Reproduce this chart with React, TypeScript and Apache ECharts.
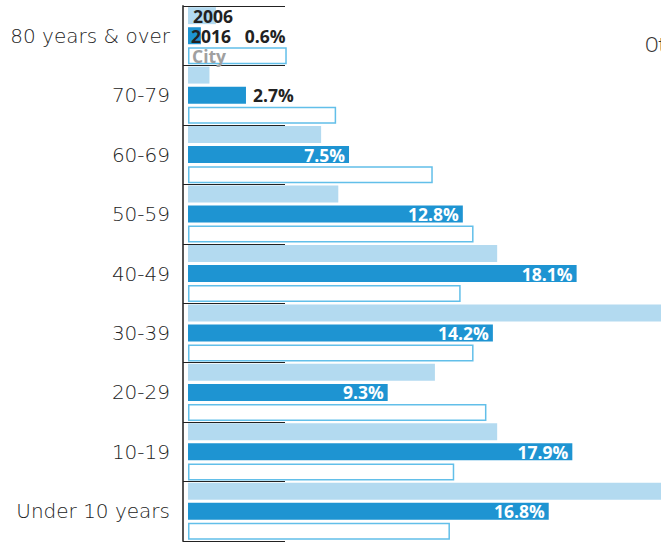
import React, { useEffect, useRef } from "react";
import * as echarts from "echarts";

const categories = ["80 years & over", "70-79", "60-69", "50-59", "40-49", "30-39", "20-29", "10-19", "Under 10 years"];
const v2006 = [1.3, 1.0, 6.2, 7.0, 14.4, 23.0, 11.5, 14.4, 23.0];
const v2016 = [0.6, 2.7, 7.5, 12.8, 18.1, 14.2, 9.3, 17.9, 16.8];
const vCity = [4.6, 6.9, 11.4, 13.3, 12.7, 13.3, 13.9, 12.4, 12.2];
const seriesNames = ["2006", "2016", "City"];

const LIGHT = "#b3daf0";
const DARK = "#1e94d2";
const BORDER = "#62bfe9";
const FONT = "'Open Sans', sans-serif";
const CAT_FONT = "'DejaVu Sans', sans-serif";

export default function App() {
  const ref = useRef<HTMLDivElement>(null);
  useEffect(() => {
    const chart = echarts.init(ref.current!, null, { renderer: "svg" });
    const labelBase = { fontFamily: FONT, fontWeight: "bold" as const, fontSize: 17.5, lineHeight: 16 };
    chart.setOption({
      animation: false,
      grid: { left: 183, right: 0, top: 6, bottom: 2 },
      xAxis: { type: "value", min: -0.233, max: 22.03, show: false },
      yAxis: {
        type: "category",
        inverse: true,
        data: categories,
        axisLine: { show: true, onZero: false, lineStyle: { color: "#555", width: 2 } },
        axisTick: { show: true, inside: true, length: 102, lineStyle: { color: "#222", width: 1 } },
        axisLabel: { fontFamily: CAT_FONT, fontWeight: 200, fontSize: 20, color: "#222", margin: 13 },
        splitLine: { show: false },
      },
      graphic: [
        { type: "text", left: 645, top: 35, style: { text: "Other", fontFamily: "Roboto, sans-serif", fontWeight: 300, fontSize: 20, fill: "#333" } },
      ],
      series: [
        {
          name: seriesNames[0],
          type: "bar",
          barWidth: 17,
          barGap: "18%",
          itemStyle: { color: LIGHT },
          label: { show: false },
          data: v2006.map((v, i) =>
            i === 0
              ? { value: v, label: { show: true, position: "insideLeft", distance: 5, color: "#222", formatter: seriesNames[0], ...labelBase } }
              : v
          ),
        },
        {
          name: seriesNames[1],
          type: "bar",
          barWidth: 17,
          barGap: "18%",
          itemStyle: { color: DARK },
          label: { show: true, position: "insideRight", distance: 4, color: "#fff", formatter: "{c}%", ...labelBase },
          data: v2016.map((v, i) =>
            i === 0
              ? { value: v, label: { position: "insideLeft", distance: 3, color: "#222", formatter: seriesNames[1] + "   {c}%" } }
              : v < 5
              ? { value: v, label: { position: "right", distance: 7, color: "#222" } }
              : v
          ),
        },
        {
          name: seriesNames[2],
          type: "bar",
          barWidth: 17,
          barGap: "18%",
          itemStyle: { color: "#fff", borderColor: BORDER, borderWidth: 1.5 },
          label: { show: false },
          data: vCity.map((v, i) =>
            i === 0
              ? { value: v, label: { show: true, position: "insideLeft", distance: 4, color: "#a0a0a0", formatter: seriesNames[2], ...labelBase } }
              : v
          ),
        },
      ],
    });
    return () => chart.dispose();
  }, []);
  return <div ref={ref} style={{ position: "absolute", left: 0, top: 0, width: 661, height: 543 }} />;
}
